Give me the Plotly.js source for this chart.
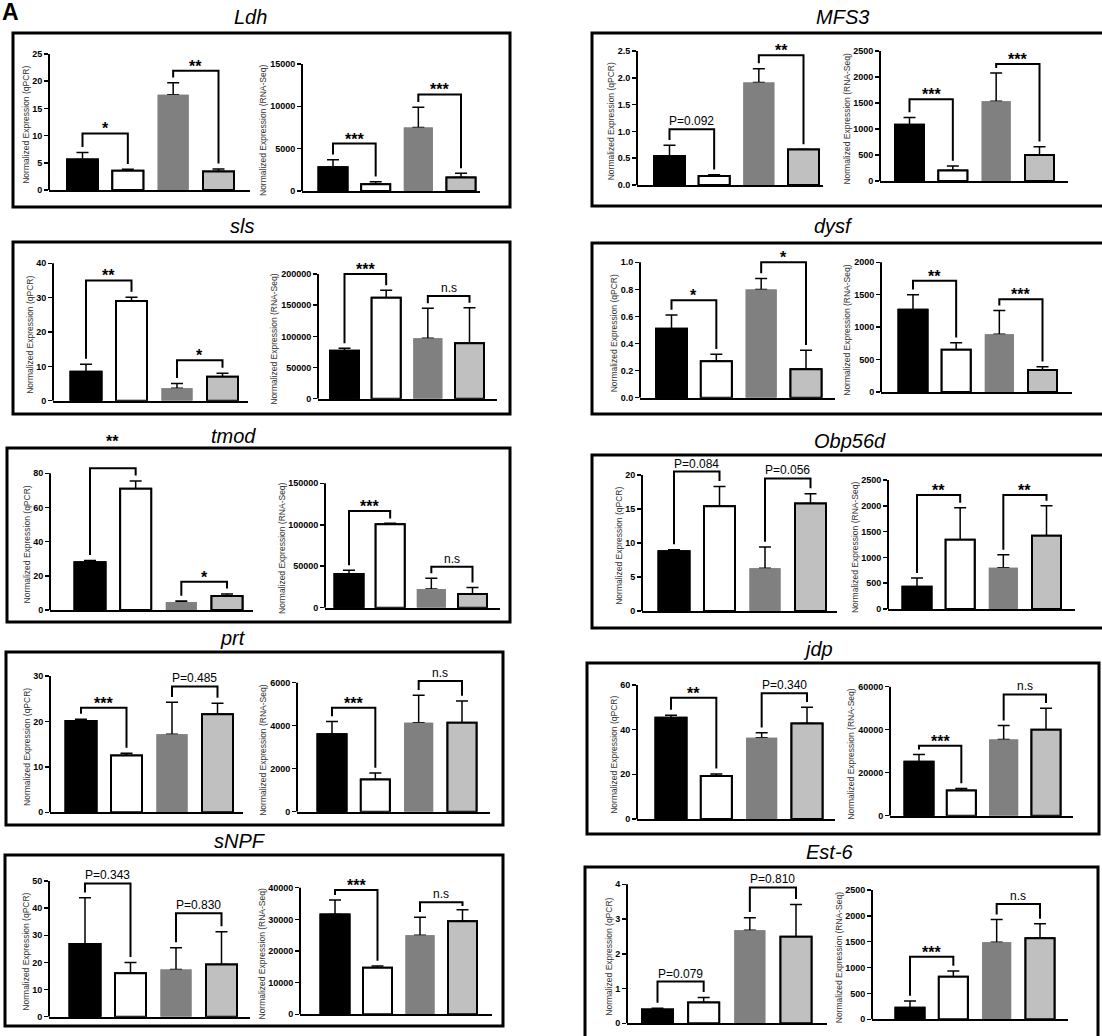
<!DOCTYPE html>
<html>
<head>
<meta charset="utf-8">
<script src="https://cdn.plot.ly/plotly-3.0.1.min.js"></script>
<style>
html,body{margin:0;padding:0;background:#fff;}
#chart{width:1102px;height:1036px;}
</style>
</head>
<body>
<div id="chart"></div>
<script>
// ---------------- DATA ----------------
const genes = ['Ldh','MFS3','sls','dysf','tmod','Obp56d','prt','jdp','sNPF','Est-6'];
const groups = ['Group 1','Group 2','Group 3','Group 4'];

// qPCR means / SEM (per gene, 4 groups)
const qpcrMean = [
  [5.6, 3.55, 17.5, 3.4],
  [0.54, 0.17, 1.91, 0.66],
  [8.4, 29.0, 3.6, 7.0],
  [0.51, 0.27, 0.80, 0.21],
  [28, 71, 4.7, 8.2],
  [8.8, 15.4, 6.3, 15.8],
  [20.1, 12.5, 17.2, 21.6],
  [45.3, 19.2, 36.4, 42.8],
  [26.8, 16.0, 17.4, 19.2],
  [0.40, 0.60, 2.68, 2.49]
];
const qpcrErr = [
  [1.3, 0.25, 2.2, 0.45],
  [0.2, 0.02, 0.26, 0],
  [2.2, 1.1, 1.4, 1.0],
  [0.10, 0.05, 0.08, 0.14],
  [1, 4.5, 0.5, 1.2],
  [0.2, 2.9, 3.1, 1.45],
  [0.4, 0.5, 7.0, 2.4],
  [1.2, 1.0, 2.2, 7.2],
  [17.0, 4.0, 8.0, 12.1],
  [0.03, 0.14, 0.36, 0.93]
];
// RNA-Seq means / SEM
const rnaMean = [
  [2800, 800, 7500, 1600],
  [1080, 200, 1535, 500],
  [77000, 162000, 97000, 89000],
  [1270, 650, 890, 340],
  [40600, 100500, 22500, 16500],
  [430, 1340, 800, 1420],
  [3600, 1500, 4140, 4140],
  [25100, 11700, 35500, 40000],
  [31500, 14700, 25000, 29400],
  [225, 825, 1488, 1566]
];
const rnaErr = [
  [900, 300, 2400, 500],
  [140, 90, 540, 160],
  [4000, 12000, 48000, 57000],
  [230, 110, 365, 50],
  [4500, 1200, 13000, 8000],
  [170, 620, 250, 580],
  [600, 300, 1280, 1010],
  [3400, 1000, 6400, 10000],
  [4600, 600, 5700, 3600],
  [130, 110, 440, 280]
];
// y tick values
const qpcrTicks = [
  [0,5,10,15,20,25],
  [0,0.5,1,1.5,2,2.5],
  [0,10,20,30,40],
  [0,0.2,0.4,0.6,0.8,1.0],
  [0,20,40,60,80],
  [0,5,10,15,20],
  [0,10,20,30],
  [0,20,40,60],
  [0,10,20,30,40,50],
  [0,1,2,3,4]
];
const rnaTicks = [
  [0,5000,10000,15000],
  [0,500,1000,1500,2000,2500],
  [0,50000,100000,150000,200000],
  [0,500,1000,1500,2000],
  [0,50000,100000,150000],
  [0,500,1000,1500,2000,2500],
  [0,2000,4000,6000],
  [0,20000,40000,60000],
  [0,10000,20000,30000,40000],
  [0,500,1000,1500,2000,2500]
];
// significance brackets: [groupA, groupB, bracket level, label, (optional label level)]
const qpcrSig = [
  [[0,1,10.4,'*'],[2,3,21.9,'**']],
  [[0,1,1.04,'P=0.092'],[2,3,2.42,'**']],
  [[0,1,35,'**'],[2,3,11.8,'*']],
  [[0,1,0.72,'*'],[2,3,1.0,'*']],
  [[0,1,83,'**',96],[2,3,16.6,'*']],
  [[0,1,20.5,'P=0.084'],[2,3,19.5,'P=0.056']],
  [[0,1,23,'***'],[2,3,27.7,'P=0.485']],
  [[0,1,54.3,'**'],[2,3,56.3,'P=0.340']],
  [[0,1,49.1,'P=0.343'],[2,3,38.1,'P=0.830']],
  [[0,1,1.2,'P=0.079'],[2,3,3.91,'P=0.810']]
];
const rnaSig = [
  [[0,1,5600,'***'],[2,3,11400,'***']],
  [[0,1,1570,'***'],[2,3,2250,'***']],
  [[0,1,200000,'***'],[2,3,164700,'n.s']],
  [[0,1,1717,'**'],[2,3,1430,'***']],
  [[0,1,116600,'***'],[2,3,49500,'n.s']],
  [[0,1,2210,'**'],[2,3,2210,'**']],
  [[0,1,4840,'***'],[2,3,6080,'n.s']],
  [[0,1,32560,'***'],[2,3,56430,'n.s']],
  [[0,1,39260,'***'],[2,3,35400,'n.s']],
  [[0,1,1211,'***'],[2,3,2229,'n.s']]
];

// ---------------- LAYOUT GEOMETRY (pixels) ----------------
const W = 1102, H = 1036;
// box [x0,y0,x1,y1], title [cx,cy], axes [left, right, firstBarCenter, lastBarCenter, zeroY, topTickY]
const geo = [
  {box:[13,33,510,207],  title:[250,17],  q:[49,250,82.5,218.5,190,54],       r:[302,480,333,461,191,64]},
  {box:[592,33,1110,206],title:[842,17],  q:[637,823,669.5,803.5,185,51],     r:[880,1068,909.5,1039.5,181,51]},
  {box:[13,242,510,414], title:[242,226], q:[53,248,86,222.5,400.7,263.3],    r:[318,497,344.5,469.5,398.7,274]},
  {box:[592,243,1110,414],title:[833,226],q:[640,835,671.5,806,397.7,262.3],  r:[881,1072,913,1042.5,392,262.3]},
  {box:[7,448,510,622],  title:[233,436], q:[50,253,90,227,610,473.3],        r:[325,500,349,472.5,607.7,483.3]},
  {box:[592,455,1110,628],title:[850,441],q:[642,837,674,810.5,611,475],      r:[888,1075,917,1046.5,609,480]},
  {box:[6,652,503,825],  title:[233,638], q:[50,243,81,217.5,812.3,676],      r:[297,490,332,462,811.7,682.7]},
  {box:[587,663,1099,834],title:[818,649],q:[637,835,671,807,819,685],        r:[890,1073,919,1046,815.7,686.7]},
  {box:[5,855,503,1026], title:[240,841], q:[49,250,85,221.5,1016.7,881],     r:[300,492,335,462.5,1014.3,887.7]},
  {box:[585,867,1098,1042],title:[830,852],q:[627,827,657.5,796,1023.3,884.3],r:[872,1068,910,1040,1019.3,890]}
];

const FONT = 'Liberation Sans, Arial, Helvetica, sans-serif';
const fillColors = ['#000000','#ffffff','#808080','#c0c0c0'];
const edgeColors = ['#000000','#000000','#808080','#000000'];
const edgeWidths = [2,2,0,2];

const data = [];
const shapes = [];
const annotations = [];
const layout = {
  width: W, height: H,
  margin: {l:0, r:0, t:0, b:0, pad:0},
  paper_bgcolor: '#ffffff', plot_bgcolor: 'rgba(0,0,0,0)',
  showlegend: false,
  barmode: 'overlay',
  font: {family: FONT, color: '#000'}
};

function labelWidth(t) {
  let w = 0;
  for (const c of t) w += (c === '.' ? 2.5 : 5.1);
  return w;
}

let k = 0;
function addSubplot(gi, kind) {
  k++;
  const xa = k === 1 ? 'x' : 'x' + k;
  const ya = k === 1 ? 'y' : 'y' + k;
  const [L, R, c0, c3, y0, yT] = geo[gi][kind];
  const means = kind === 'q' ? qpcrMean[gi] : rnaMean[gi];
  const errs = kind === 'q' ? qpcrErr[gi] : rnaErr[gi];
  const ticks = kind === 'q' ? qpcrTicks[gi] : rnaTicks[gi];
  const sigs = kind === 'q' ? qpcrSig[gi] : rnaSig[gi];
  const tMax = ticks[ticks.length - 1];
  const s = (c3 - c0) / 3;
  const domTopPx = geo[gi].box[1] + 5;
  const ppu = (y0 - yT) / tMax;            // pixels per data unit
  const rTop = (y0 - domTopPx) / ppu;
  const dec = ticks.some(t => !Number.isInteger(t));
  const tickText = ticks.map(t => dec ? t.toFixed(1) : String(t));
  const bwPx = kind === 'q' ? 31 : 29;

  layout['xaxis' + (k === 1 ? '' : k)] = {
    domain: [L / W, R / W], anchor: ya, type: 'category',
    range: [(L - c0) / s, (R - c0) / s],
    showline: true, linewidth: 2, linecolor: '#000',
    ticks: '', showticklabels: false, showgrid: false, zeroline: false, fixedrange: true
  };
  layout['yaxis' + (k === 1 ? '' : k)] = {
    domain: [1 - y0 / H, 1 - domTopPx / H], anchor: xa,
    range: [0, rTop],
    tickmode: 'array', tickvals: ticks, ticktext: tickText,
    ticks: 'outside', ticklen: 4, tickwidth: 1.5, tickcolor: '#000',
    showline: false, showgrid: false, zeroline: false, fixedrange: true,
    tickfont: {family: FONT, size: 9, color: '#000', weight: 'bold'}
  };

  // bars with upward error bars
  data.push({
    type: 'bar', x: groups, y: means, xaxis: xa, yaxis: ya,
    width: bwPx / s,
    marker: {color: fillColors, line: {color: edgeColors, width: edgeWidths}},
    error_y: {type: 'data', symmetric: false, array: errs, arrayminus: errs.map(() => 0),
              color: '#000', thickness: 1.5, width: 6},
    hoverinfo: 'skip'
  });
  // same bars redrawn on top so the lower whisker cap is hidden by the bar
  data.push({
    type: 'bar', x: groups, y: means, xaxis: xa, yaxis: ya,
    width: bwPx / s,
    marker: {color: fillColors, line: {color: edgeColors, width: edgeWidths}},
    hoverinfo: 'skip'
  });

  // y-axis line only up to the top tick
  shapes.push({type: 'line', xref: xa + ' domain', yref: ya, x0: 0, x1: 0, y0: 0, y1: tMax,
               line: {color: '#000', width: 2}});

  // y-axis title
  const maxW = Math.max(...tickText.map(labelWidth));
  annotations.push({
    xref: 'paper', yref: 'paper',
    x: (L - (maxW + 13)) / W, y: 1 - ((y0 + yT) / 2 + 3) / H,
    xanchor: 'center', yanchor: 'middle', textangle: -90, showarrow: false,
    text: kind === 'q' ? 'Normalized Expression (qPCR)' : 'Normalized Expression (RNA-Seq)',
    font: {family: FONT, size: 8.5, color: '#333'}
  });

  sigs.forEach(sg => {
    const [i, j, level, label, labelLevel] = sg;
    const gap = 0.04 * tMax, minLeg = 0.03 * tMax;
    const legI = Math.min(means[i] + errs[i] + gap, level - minLeg);
    const legJ = Math.min(means[j] + errs[j] + gap, level - minLeg);
    data.push({
      type: 'scatter', mode: 'lines', xaxis: xa, yaxis: ya,
      x: [groups[i], groups[i], groups[j], groups[j]],
      y: [legI, level, level, legJ],
      line: {color: '#000', width: 2, shape: 'linear'},
      hoverinfo: 'skip'
    });
    const star = /^\*+$/.test(label);
    let shift = star ? -6 : -1;
    if (labelLevel !== undefined) shift += (labelLevel - level) * ppu;
    annotations.push({
      xref: xa, yref: ya, x: (i + j) / 2, y: level, text: label,
      showarrow: false, yanchor: 'bottom', xanchor: 'center', yshift: shift,
      font: star ? {family: FONT, size: 16, color: '#000', weight: 'bold'}
                 : {family: FONT, size: 12, color: '#000'}
    });
  });
}

genes.forEach((g, gi) => {
  addSubplot(gi, 'q');
  addSubplot(gi, 'r');
  const b = geo[gi].box;
  shapes.push({type: 'rect', xref: 'paper', yref: 'paper',
               x0: b[0] / W, x1: b[2] / W, y0: 1 - b[3] / H, y1: 1 - b[1] / H,
               line: {color: '#000', width: 3}, fillcolor: 'rgba(0,0,0,0)', layer: 'above'});
  annotations.push({xref: 'paper', yref: 'paper', x: geo[gi].title[0] / W, y: 1 - geo[gi].title[1] / H,
                    xanchor: 'center', yanchor: 'middle', showarrow: false, text: g,
                    font: {family: FONT, size: 20, color: '#000', style: 'italic'}});
});

annotations.push({xref: 'paper', yref: 'paper', x: 0, y: 1 + 3 / H, xanchor: 'left', yanchor: 'top',
                  showarrow: false, text: 'A', font: {family: FONT, size: 23, color: '#000', weight: 'bold'}});

layout.shapes = shapes;
layout.annotations = annotations;

Plotly.newPlot('chart', data, layout, {staticPlot: true, displayModeBar: false});
</script>
</body>
</html>
